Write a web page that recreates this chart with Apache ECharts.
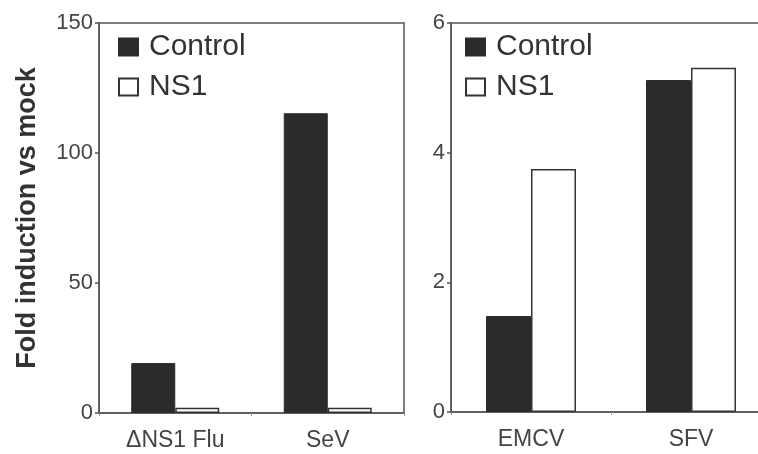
<!DOCTYPE html>
<html>
<head>
<meta charset="utf-8">
<style>html,body{margin:0;padding:0;background:#fff;}#c{width:758px;height:454px;}</style>
<script src="https://cdn.jsdelivr.net/npm/echarts@6/dist/echarts.min.js"></script>
</head>
<body>
<div id="c"></div>
<script>
const leftCategories = ['\u0394NS1 Flu', 'SeV'];
const leftControl = [19.2, 115.3];
const leftNS1 = [2, 2];
const rightCategories = ['EMCV', 'SFV'];
const rightControl = [1.48, 5.12];
const rightNS1 = [3.75, 5.31];
const leftTicks = { min: 0, max: 150, interval: 50 };
const rightTicks = { min: 0, max: 6, interval: 2 };
const seriesNames = ['Control', 'NS1'];
const yTitle = 'Fold induction vs mock';

const FONT = '"Liberation Sans", Arial, Helvetica, sans-serif';
const axisCol = '#555';
const textCol = '#444';
const darkFill = '#2b2b2b';

const chart = echarts.init(document.getElementById('c'), null, { renderer: 'canvas' });

function yAxis(idx, ticks, name) {
  return {
    type: 'value', gridIndex: idx, min: ticks.min, max: ticks.max, interval: ticks.interval,
    name: name || '', nameLocation: 'middle', nameGap: 58,
    nameTextStyle: { fontFamily: FONT, fontSize: 27, fontWeight: 'bold', color: '#333' },
    axisLine: { show: true, lineStyle: { color: axisCol, width: 1.5 } },
    axisTick: { show: true, length: 4, lineStyle: { color: axisCol, width: 1.5 } },
    axisLabel: { fontFamily: FONT, fontSize: 22, color: textCol, margin: 6 },
    splitLine: { show: false }
  };
}
function xAxis(idx, cats) {
  return {
    type: 'category', gridIndex: idx, data: cats,
    axisLine: { show: true, lineStyle: { color: axisCol, width: 1.5 } },
    axisTick: { show: true, length: 3, lineStyle: { color: '#999', width: 1 } },
    axisLabel: { fontFamily: FONT, fontSize: 23, color: textCol, margin: 16 }
  };
}
function bars(idx, name, data, width) {
  const isCtl = name === 'Control';
  return {
    type: 'bar', name: name, xAxisIndex: idx, yAxisIndex: idx, data: data,
    barWidth: width, barGap: '0%',
    itemStyle: isCtl ? { color: darkFill, borderColor: darkFill, borderWidth: 1 }
                     : { color: '#fff', borderColor: '#333', borderWidth: 1.5 },
    emphasis: { disabled: true }
  };
}
function legend(left) {
  return {
    orient: 'vertical', left: left, top: 27, itemWidth: 19, itemHeight: 17, itemGap: 10,
    icon: 'rect', data: seriesNames, selectedMode: false,
    textStyle: { fontFamily: FONT, fontSize: 30, color: '#333', padding: [0, 0, 0, 6] }
  };
}

chart.setOption({
  animation: false,
  backgroundColor: '#fff',
  grid: [
    { left: 99, top: 23, width: 305, height: 390, show: true, borderColor: axisCol, borderWidth: 1.5, containLabel: false, outerBoundsMode: 'none' },
    { left: 451, top: 23, width: 320, height: 389, show: true, borderColor: axisCol, borderWidth: 1.5, containLabel: false, outerBoundsMode: 'none' }
  ],
  legend: [legend(113), legend(460)],
  xAxis: [xAxis(0, leftCategories), xAxis(1, rightCategories)],
  yAxis: [yAxis(0, leftTicks, yTitle), yAxis(1, rightTicks)],
  series: [
    bars(0, seriesNames[0], leftControl, 44),
    bars(0, seriesNames[1], leftNS1, 44),
    bars(1, seriesNames[0], rightControl, 45),
    bars(1, seriesNames[1], rightNS1, 45)
  ]
});
</script>
</body>
</html>
